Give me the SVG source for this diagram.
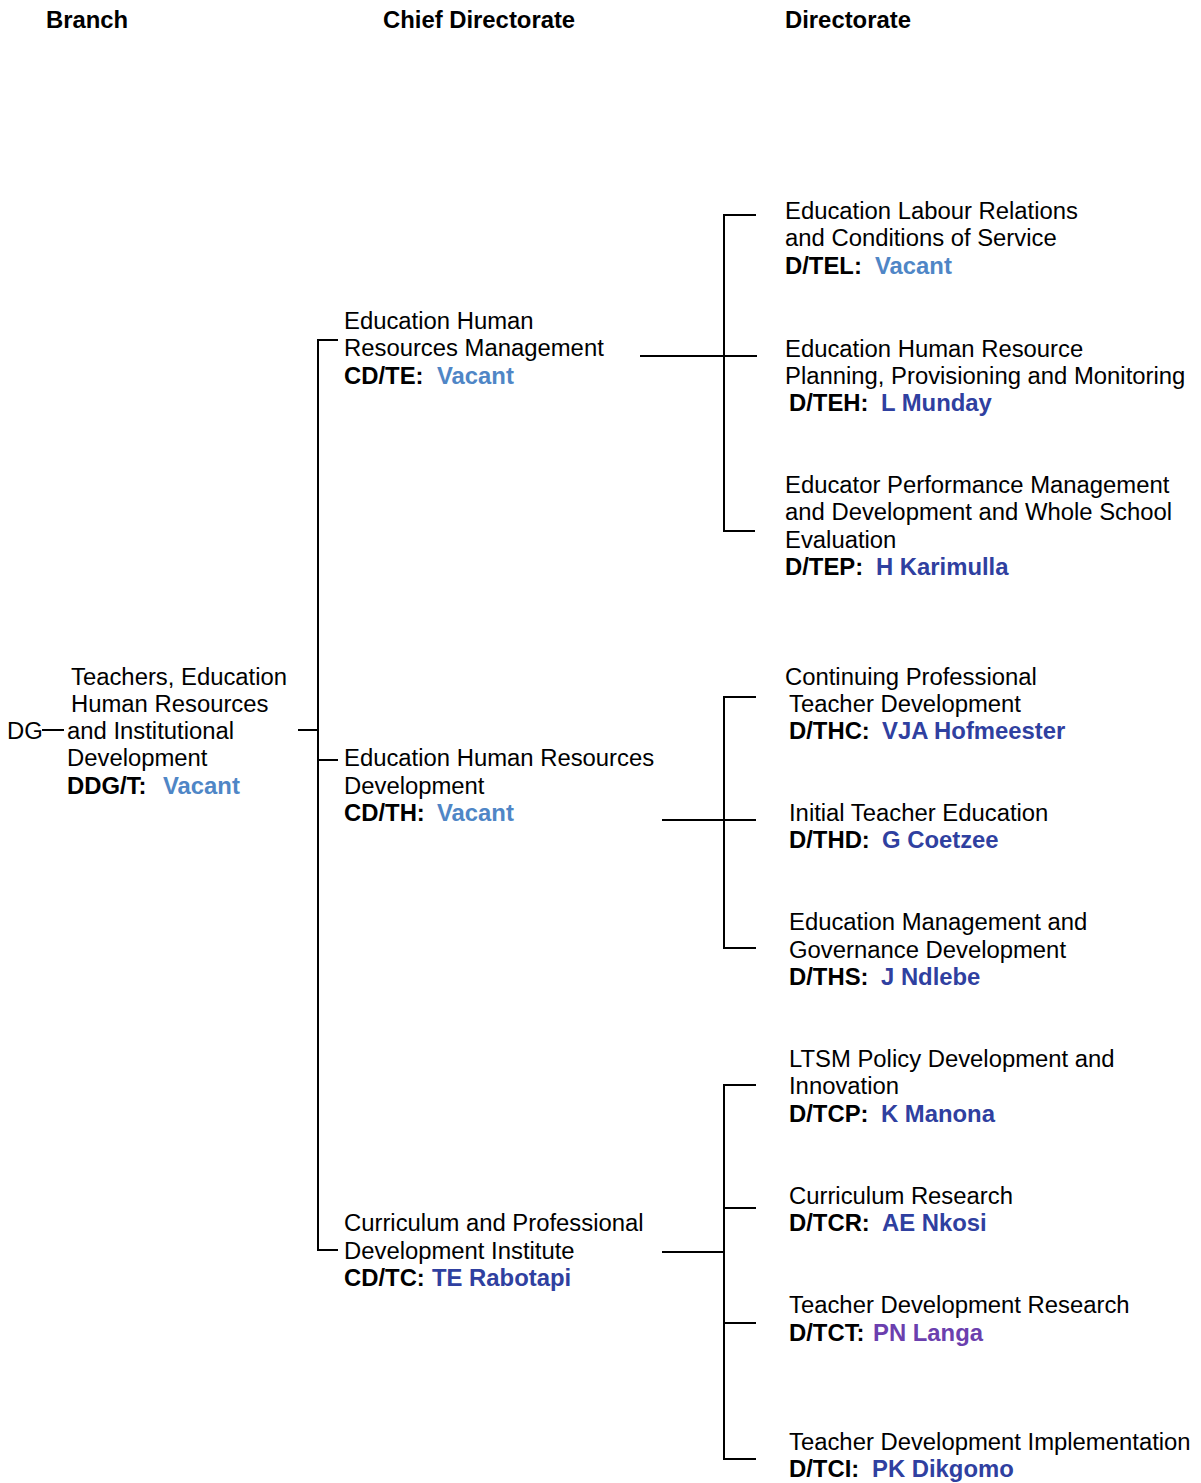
<svg xmlns="http://www.w3.org/2000/svg" width="1201" height="1483" viewBox="0 0 1201 1483">
<style>
text{font-family:"Liberation Sans",Arial,sans-serif;font-size:23.85px;fill:#000}
.b{font-weight:bold}
.v{font-weight:bold;fill:#4f86c6}
.n{font-weight:bold;fill:#2f40a0}
.p{font-weight:bold;fill:#6b3fae}
.c line{stroke:#000;stroke-width:2}
</style>
<rect width="1201" height="1483" fill="#fff"/>
<g id="headers">
<text class="b" x="46" y="28">Branch</text>
<text class="b" x="383" y="28">Chief Directorate</text>
<text class="b" x="785" y="28">Directorate</text>
</g>
<g class="c" id="connectors">
<line x1="42" y1="730" x2="64" y2="730"/>
<line x1="298" y1="730" x2="318" y2="730"/>
<line x1="318" y1="339" x2="318" y2="1251"/>
<line x1="317" y1="340" x2="338" y2="340"/>
<line x1="318" y1="760" x2="338" y2="760"/>
<line x1="317" y1="1250" x2="338" y2="1250"/>
<line x1="640" y1="356" x2="757" y2="356"/>
<line x1="724" y1="214" x2="724" y2="532"/>
<line x1="723" y1="215" x2="756" y2="215"/>
<line x1="723" y1="531" x2="755" y2="531"/>
<line x1="662" y1="820" x2="756" y2="820"/>
<line x1="724" y1="696" x2="724" y2="949"/>
<line x1="723" y1="697" x2="756" y2="697"/>
<line x1="723" y1="948" x2="756" y2="948"/>
<line x1="662" y1="1252" x2="724" y2="1252"/>
<line x1="724" y1="1084" x2="724" y2="1460"/>
<line x1="723" y1="1085" x2="756" y2="1085"/>
<line x1="724" y1="1208" x2="756" y2="1208"/>
<line x1="724" y1="1323" x2="756" y2="1323"/>
<line x1="723" y1="1459" x2="756" y2="1459"/>
</g>
<g id="dg"><text x="7" y="739">DG</text></g>
<g id="ddg-t">
<text x="71" y="685">Teachers, Education</text>
<text x="71" y="712">Human Resources</text>
<text x="67" y="739">and Institutional</text>
<text x="67" y="766">Development</text>
<text x="67" y="794"><tspan class="b">DDG/T:</tspan><tspan class="v" x="163">Vacant</tspan></text>
</g>
<g id="cd-te">
<text x="344" y="329">Education Human</text>
<text x="344" y="356">Resources Management</text>
<text x="344" y="384"><tspan class="b">CD/TE:</tspan><tspan class="v" x="437">Vacant</tspan></text>
</g>
<g id="cd-th">
<text x="344" y="766">Education Human Resources</text>
<text x="344" y="794">Development</text>
<text x="344" y="821"><tspan class="b">CD/TH:</tspan><tspan class="v" x="437">Vacant</tspan></text>
</g>
<g id="cd-tc">
<text x="344" y="1231">Curriculum and Professional</text>
<text x="344" y="1259">Development Institute</text>
<text x="344" y="1286"><tspan class="b">CD/TC:</tspan><tspan class="n" x="432">TE Rabotapi</tspan></text>
</g>
<g id="d-tel">
<text x="785" y="219">Education Labour Relations</text>
<text x="785" y="246">and Conditions of Service</text>
<text x="785" y="274"><tspan class="b">D/TEL:</tspan><tspan class="v" x="875">Vacant</tspan></text>
</g>
<g id="d-teh">
<text x="785" y="357">Education Human Resource</text>
<text x="785" y="384">Planning, Provisioning and Monitoring</text>
<text x="789" y="411"><tspan class="b">D/TEH:</tspan><tspan class="n" x="881">L Munday</tspan></text>
</g>
<g id="d-tep">
<text x="785" y="493">Educator Performance Management</text>
<text x="785" y="520">and Development and Whole School</text>
<text x="785" y="548">Evaluation</text>
<text x="785" y="575"><tspan class="b">D/TEP:</tspan><tspan class="n" x="876">H Karimulla</tspan></text>
</g>
<g id="d-thc">
<text x="785" y="685">Continuing Professional</text>
<text x="789" y="712">Teacher Development</text>
<text x="789" y="739"><tspan class="b">D/THC:</tspan><tspan class="n" x="882">VJA Hofmeester</tspan></text>
</g>
<g id="d-thd">
<text x="789" y="821">Initial Teacher Education</text>
<text x="789" y="848"><tspan class="b">D/THD:</tspan><tspan class="n" x="882">G Coetzee</tspan></text>
</g>
<g id="d-ths">
<text x="789" y="930">Education Management and</text>
<text x="789" y="958">Governance Development</text>
<text x="789" y="985"><tspan class="b">D/THS:</tspan><tspan class="n" x="881">J Ndlebe</tspan></text>
</g>
<g id="d-tcp">
<text x="789" y="1067">LTSM Policy Development and</text>
<text x="789" y="1094">Innovation</text>
<text x="789" y="1122"><tspan class="b">D/TCP:</tspan><tspan class="n" x="881">K Manona</tspan></text>
</g>
<g id="d-tcr">
<text x="789" y="1204">Curriculum Research</text>
<text x="789" y="1231"><tspan class="b">D/TCR:</tspan><tspan class="n" x="882">AE Nkosi</tspan></text>
</g>
<g id="d-tct">
<text x="789" y="1313">Teacher Development Research</text>
<text x="789" y="1341"><tspan class="b">D/TCT:</tspan><tspan class="p" x="873">PN Langa</tspan></text>
</g>
<g id="d-tci">
<text x="789" y="1450">Teacher Development Implementation</text>
<text x="789" y="1477"><tspan class="b">D/TCI:</tspan><tspan class="n" x="872">PK Dikgomo</tspan></text>
</g>
</svg>
